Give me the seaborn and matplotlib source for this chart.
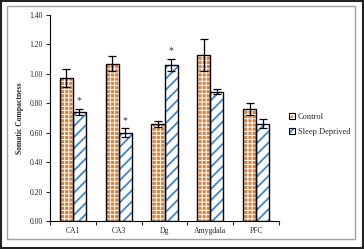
import numpy as np
import matplotlib
matplotlib.use("Agg")
import matplotlib.pyplot as plt
import matplotlib.patches as mpatches
from matplotlib.legend_handler import HandlerTuple
import seaborn as sns
import pandas as pd

# data
regions = ["CA1", "CA3", "Dg", "Amygdala", "PFC"]
groups = ["Control", "Sleep Deprived"]
control = [0.97, 1.07, 0.66, 1.13, 0.76]
control_err = [0.06, 0.05, 0.02, 0.11, 0.04]
deprived = [0.74, 0.60, 1.06, 0.88, 0.66]
deprived_err = [0.02, 0.03, 0.04, 0.02, 0.03]
significant = [True, True, True, False, False]
yticks = [0.0, 0.2, 0.4, 0.6, 0.8, 1.0, 1.2, 1.4]

ORANGE = "#f07f2a"
BLUE = "#3b86d4"
# control: orange dots = orange fill cut by a white grid
STYLE = {
    "Control": dict(face=ORANGE, hatchc="white", hatch="++++", hlw=0.7),
    "Sleep Deprived": dict(face="white", hatchc=BLUE, hatch="///", hlw=1.3),
}

sns.set_theme(style="ticks")
plt.rcParams["font.family"] = ["Liberation Serif", "DejaVu Serif"]


def style_patch(p, g):
    st = STYLE[g]
    plt.rcParams["hatch.linewidth"] = st["hlw"]
    p.set_hatch(st["hatch"])
    p.set_edgecolor(st["hatchc"])
    if hasattr(p, "set_hatch_linewidth"):
        p.set_hatch_linewidth(st["hlw"])


df = pd.DataFrame({
    "region": regions * 2,
    "group": [groups[0]] * 5 + [groups[1]] * 5,
    "value": control + deprived,
    "err": control_err + deprived_err,
})

fig = plt.figure(figsize=(3.64, 2.49), dpi=100)
ax = fig.add_axes([0.137, 0.112, 0.630, 0.828])

width = 0.57
sns.barplot(data=df, x="region", y="value", hue="group", order=regions,
            hue_order=groups, palette=[STYLE[g]["face"] for g in groups],
            width=width, gap=0, errorbar=None, legend=False, ax=ax, linewidth=0)
bars = [p for p in ax.patches]
for i, p in enumerate(bars):
    style_patch(p, df.iloc[i]["group"])
# outlines
sns.barplot(data=df, x="region", y="value", hue="group", order=regions,
            hue_order=groups, fill=False, width=width, gap=0,
            errorbar=None, legend=False, ax=ax, linewidth=1.0,
            palette=["black", "black"])

for i, p in enumerate(bars):
    xc = p.get_x() + p.get_width() / 2
    row = df.iloc[i]
    ax.errorbar(xc, row["value"], yerr=row["err"], color="black",
                lw=0.9, capsize=3, capthick=0.9, zorder=5)
    if i >= 5 and significant[i - 5]:
        ax.text(xc, row["value"] + row["err"] + 0.025, "*", ha="center",
                va="bottom", fontsize=7, color="#333333")

ax.set_xlim(-0.5, 4.5)
ax.set_ylim(0, 1.4)
ax.set_yticks(yticks)
ax.set_yticklabels([f"{t:.2f}" for t in yticks], fontsize=5.5)
ax.set_xticks(range(5))
ax.set_xticklabels(regions, fontsize=5.5)
ax.set_xticks(np.arange(-0.5, 5, 1), minor=True)
ax.tick_params(axis="x", which="major", length=0, pad=4)
ax.tick_params(axis="x", which="minor", length=3, width=0.8)
ax.tick_params(axis="y", length=3, width=0.8, pad=2)
ax.set_xlabel("")
ax.set_ylabel("Somatic Compactness", fontsize=5.5, fontweight="bold", labelpad=4)
for s in ["top", "right"]:
    ax.spines[s].set_visible(False)
for s in ["left", "bottom"]:
    ax.spines[s].set_linewidth(0.8)
    ax.spines[s].set_color("black")

handles = []
for g in groups:
    hp = mpatches.Patch(facecolor=STYLE[g]["face"], lw=0)
    style_patch(hp, g)
    op = mpatches.Patch(facecolor="none", edgecolor="black", lw=0.8)
    handles.append((hp, op))
leg = fig.legend(handles=handles, labels=groups, loc="center left",
                 bbox_to_anchor=(0.785, 0.50), frameon=False, fontsize=6,
                 handlelength=0.75, handleheight=0.75, handletextpad=0.3,
                 labelspacing=0.8, borderaxespad=0,
                 handler_map={tuple: HandlerTuple(ndivide=1, pad=0)})

# frames around the figure
fig.patches.append(mpatches.Rectangle((0.02, 0.04), 0.955, 0.935, transform=fig.transFigure,
                                      fill=False, edgecolor="#a0a0a0", lw=1.0))
fig.patches.append(mpatches.Rectangle((0.002, 0.003), 0.996, 0.994, transform=fig.transFigure,
                                      fill=False, edgecolor="#222222", lw=1.5))

fig.savefig("out.png", dpi=100)
